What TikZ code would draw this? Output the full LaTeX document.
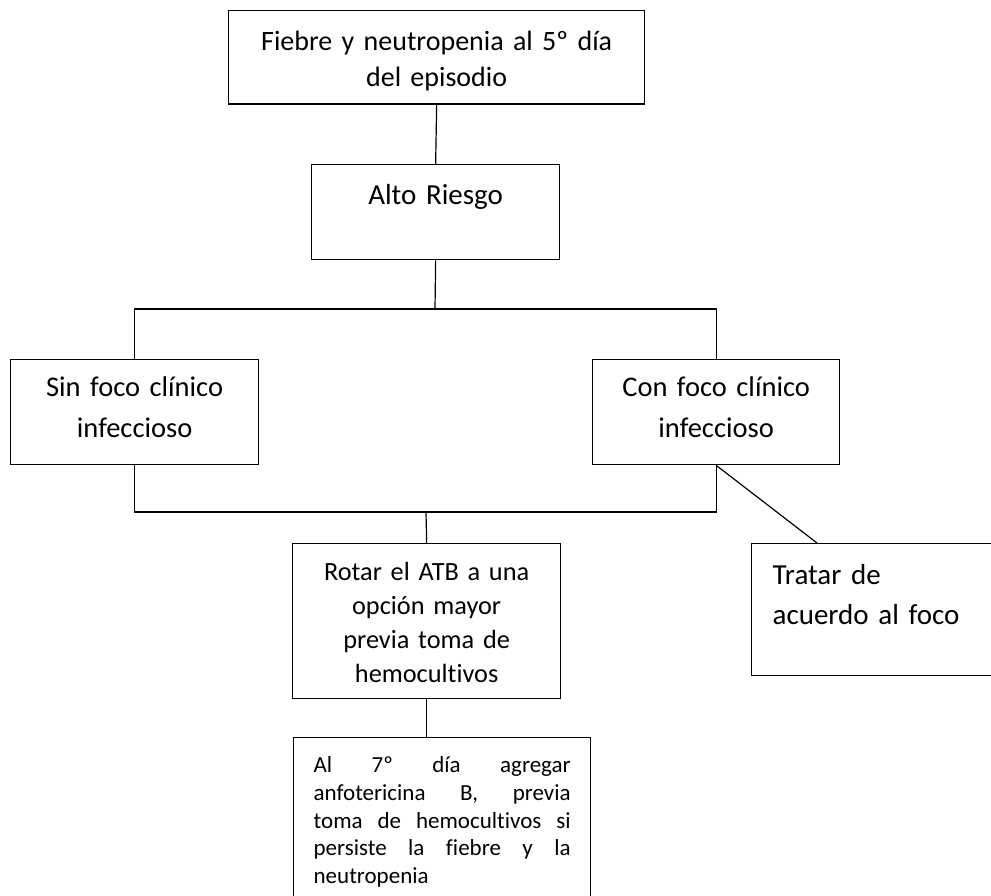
\documentclass[tikz,border=0pt]{standalone}
\usepackage{fontspec}
\setmainfont{Carlito}[Ligatures=NoCommon]
\usetikzlibrary{calc}

\begin{document}
\begin{tikzpicture}[x=1pt,y=-1pt,
    caja/.style={draw,line width=1.3pt,inner sep=0pt,align=center,anchor=north west},
    linea/.style={line width=1.2pt}]
\useasboundingbox (0,0) rectangle (991,896);
\node[caja,text width=416pt,text height=40pt,text depth=53.5pt,font=\fontsize{28}{36}\selectfont] (Fiebre) at (228,10) {Fiebre y neutropenia al 5º día\\del episodio};
\node[caja,text width=248pt,text height=40pt,text depth=55pt,font=\fontsize{29}{35}\selectfont] (Alto) at (311,164) {Alto Riesgo};
\node[caja,text width=248pt,text height=37pt,text depth=68pt,font=\fontsize{28.5}{40.5}\selectfont] (SinFoco) at (10,359) {Sin foco clínico\\infeccioso};
\node[caja,text width=247pt,text height=37pt,text depth=68pt,font=\fontsize{28.5}{40.5}\selectfont] (ConFoco) at (592,359) {Con foco clínico\\infeccioso};
\node[caja,text width=268pt,text height=37pt,text depth=118pt,font=\fontsize{26.3}{34}\selectfont] (Rotar) at (292,543) {Rotar el ATB a una\\opción mayor\\previa toma de\\hemocultivos};
\node[caja,align=left,inner xsep=21pt,text width=240pt,text height=41pt,text depth=91pt,font=\fontsize{29}{40}\selectfont] (Tratar) at (751,543) {Tratar de\\acuerdo al foco};
\node[caja,align=justify,inner xsep=20pt,text width=257pt,text height=35pt,text depth=200pt,font=\fontsize{23}{27.75}\selectfont] (Anfo) at (293,737) {Al 7º día agregar\linebreak anfotericina B, previa\linebreak toma de hemocultivos si\linebreak persiste la fiebre y la\linebreak neutropenia};
\coordinate (Arriba) at (435,309);
\coordinate (Abajo) at (426,512);
\draw[linea] (Fiebre.south) -- (Alto.north);
\draw[linea] (Alto.south) -- (Arriba);
\draw[linea] (SinFoco.north) |- (Arriba) -| (ConFoco.north);
\draw[linea] (SinFoco.south) |- (Abajo) -| (ConFoco.south);
\draw[linea] (Abajo) -- (Rotar.north);
\draw[linea] (ConFoco.south) -- ($(Tratar.north west)+(66,0)$);
\draw[linea] (Rotar.south) -- (Rotar.south |- Anfo.north);
\end{tikzpicture}
\end{document}
